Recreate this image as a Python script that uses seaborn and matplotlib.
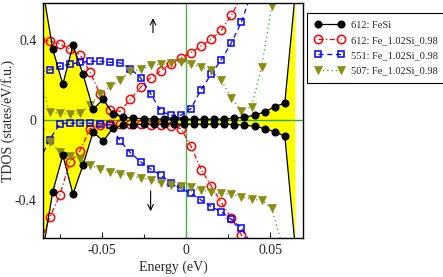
import numpy as np
import pandas as pd
import matplotlib
matplotlib.use("Agg")
import matplotlib.pyplot as plt
import seaborn as sns
from matplotlib.lines import Line2D

# Visual setup
sns.set_style("ticks")
plt.rcParams['font.family'] = ['Liberation Serif', 'DejaVu Serif']
plt.rcParams['axes.unicode_minus'] = False

# ---------------------------------------------------------------------------
# Data
# ---------------------------------------------------------------------------
# 612: FeSi (black, filled circles)
e_fesi = [-0.0852, -0.0792, -0.0732, -0.0672, -0.0612, -0.0552, -0.0492,
          -0.0432, -0.0372, -0.0312, -0.0252, -0.0192, -0.0132, -0.0072,
          -0.0012, 0.0048, 0.0108, 0.0168, 0.0228, 0.0288, 0.0348, 0.0408,
          0.0468, 0.0528, 0.0588, 0.0648]
up_fesi = [0.66, 0.355, 0.18, 0.375, 0.23, 0.055, 0.105, 0.03, 0.015, 0.01,
           0.008, 0.006, 0.005, 0.005, 0.005, 0.005, 0.005, 0.005, 0.006,
           0.01, 0.015, 0.025, 0.042, 0.067, 0.087, 0.62]
dn_fesi = [-0.66, -0.358, -0.175, -0.37, -0.225, -0.058, -0.105, -0.037,
           -0.025, -0.022, -0.02, -0.02, -0.02, -0.02, -0.02, -0.02, -0.02,
           -0.02, -0.02, -0.022, -0.025, -0.03, -0.042, -0.058, -0.08, -0.62]

# shared energy grid of the Fe_1.02Si_0.98 runs
e_grid = [-0.087, -0.081, -0.075, -0.069, -0.063, -0.057, -0.051, -0.045,
          -0.039, -0.033, -0.027, -0.021, -0.015, -0.009, -0.003, 0.003,
          0.009, 0.015, 0.021, 0.027, 0.033, 0.039]

# 612: Fe_1.02Si_0.98 (red open circles)
up_612 = [0.40, 0.397, 0.383, 0.355, 0.328, 0.24, 0.13, 0.05, 0.045, 0.105,
          0.165, 0.213, 0.247, 0.283, 0.313, 0.338, 0.372, 0.405, 0.45,
          0.525, 0.62, 0.75]
dn_612 = [-0.62, -0.487, -0.375, -0.208, -0.153, -0.042, -0.025, -0.02,
          -0.02, -0.02, -0.02, -0.025, -0.025, -0.03, -0.042, -0.13, -0.247,
          -0.328, -0.412, -0.49, -0.575, -0.70]

# 551: Fe_1.02Si_0.98 (blue open squares)
up_551 = [0.24, 0.253, 0.27, 0.28, 0.29, 0.295, 0.295, 0.29, 0.287, 0.258,
          0.213, 0.133, 0.045, 0.025, 0.025, 0.058, 0.153, 0.23, 0.303,
          0.387, 0.492, 0.64]
dn_551 = [-0.2, -0.097, -0.017, -0.015, -0.015, -0.015, -0.017, -0.025,
          -0.105, -0.163, -0.208, -0.245, -0.275, -0.313, -0.342, -0.367,
          -0.4, -0.433, -0.458, -0.497, -0.542, -0.62]

# 507: Fe_1.02Si_0.98 (olive triangles)
e_507 = e_grid + [0.045, 0.051, 0.057]
up_507 = [0.2, 0.04, 0.035, 0.03, 0.035, 0.075, 0.133, 0.17, 0.2, 0.245,
          0.255, 0.275, 0.28, 0.288, 0.292, 0.283, 0.267, 0.25, 0.2, 0.112,
          0.047, 0.067, 0.267, 0.57, 0.95]
dn_507 = [-0.06, -0.108, -0.158, -0.18, -0.192, -0.225, -0.242, -0.258,
          -0.267, -0.28, -0.288, -0.298, -0.313, -0.325, -0.33, -0.337,
          -0.35, -0.358, -0.367, -0.37, -0.383, -0.397, -0.4, -0.442, -0.62]

labels = ['612: FeSi', '612: Fe_1.02Si_0.98', '551: Fe_1.02Si_0.98',
          '507: Fe_1.02Si_0.98']

# ---------------------------------------------------------------------------
# Figure
# ---------------------------------------------------------------------------
fig = plt.figure(figsize=(4.43, 2.77), dpi=100)
ax = fig.add_axes([43 / 443, 1 - 238 / 277, 260 / 443, 235 / 277])

# yellow fill between FeSi DOS and zero
ax.fill_between(e_fesi, up_fesi, 0, color='#ffff00', lw=0, zorder=1)
ax.fill_between(e_fesi, dn_fesi, 0, color='#ffff00', lw=0, zorder=1)

# zero lines
ax.axhline(0, color='#33a833', lw=1.0, zorder=2)
ax.axvline(0, color='#4cb04c', lw=1.0, zorder=2)

styles = [
    dict(color='k', linestyle='-', marker='o', markersize=5,
         markerfacecolor='k', markeredgecolor='k', markeredgewidth=0.8),
    dict(color='#ff0000', dashes=(4, 2, 1, 2), marker='o', markersize=6,
         markerfacecolor='none', markeredgecolor='#ff0000', markeredgewidth=1.1),
    dict(color='#0000ff', dashes=(4, 3), marker='s', markersize=4.8,
         markerfacecolor='none', markeredgecolor='#0000ff', markeredgewidth=1.1),
    dict(color='#22aa22', dashes=(1, 2.5), marker='v', markersize=6,
         markerfacecolor='#8c8c10', markeredgecolor='#8c8c10', markeredgewidth=0.5),
]

series = [
    (e_fesi, up_fesi, dn_fesi),
    (e_grid, up_612, dn_612),
    (e_grid, up_551, dn_551),
    (e_507, up_507, dn_507),
]

zorders = [6, 3, 4, 5]
for (e, up, dn), st, z in zip(series, styles, zorders):
    for vals in (up, dn):
        sns.lineplot(x=e, y=vals, ax=ax, lw=0.9, zorder=z, estimator=None,
                     sort=False, **st)

# spin arrows
ax.annotate('', xy=(-0.0196, 0.525), xytext=(-0.0196, 0.425),
            arrowprops=dict(arrowstyle='->', lw=0.8, color='k'))
ax.annotate('', xy=(-0.021, -0.47), xytext=(-0.021, -0.34),
            arrowprops=dict(arrowstyle='->', lw=0.8, color='k'))

ax.set_xlim(-0.085, 0.0696)
ax.set_ylim(-0.59, 0.587)
ax.set_xticks([-0.05, 0, 0.05])
ax.set_xticklabels(['-0.05', '0', '0.05'])
ax.set_xticks([-0.075, -0.025, 0.025], minor=True)
ax.set_yticks([-0.4, 0, 0.4])
ax.set_yticklabels(['-0.4', '0', '0.4'])
ax.set_yticks([-0.2, 0.2], minor=True)
ax.tick_params(which='major', direction='in', length=4, width=0.8,
               labelsize=10, pad=4.5)
ax.tick_params(which='minor', direction='in', length=3, width=0.8)
for sp in ax.spines.values():
    sp.set_linewidth(1.0)
    sp.set_color('k')
    sp.set_zorder(10)

ax.set_xlabel('Energy (eV)', fontsize=10, labelpad=2)
ax.set_ylabel('TDOS (states/eV/f.u.)', fontsize=10)
ax.yaxis.set_label_coords(-0.108, 0.5)

# legend with markers at both ends
handles = []
for st, lab in zip(styles, labels):
    handles.append(Line2D([], [], lw=0.9, label=lab, **st))
leg = fig.legend(handles=handles, loc='upper left',
                 bbox_to_anchor=(307 / 443, 1 - 13 / 277),
                 bbox_transform=fig.transFigure, numpoints=2,
                 fontsize=7.5, handlelength=2.8, handletextpad=0.7,
                 labelspacing=0.55, borderpad=0.75, borderaxespad=0,
                 fancybox=False, framealpha=1, edgecolor='k')
leg.get_frame().set_linewidth(0.8)

plt.savefig('out.png', dpi=100)
